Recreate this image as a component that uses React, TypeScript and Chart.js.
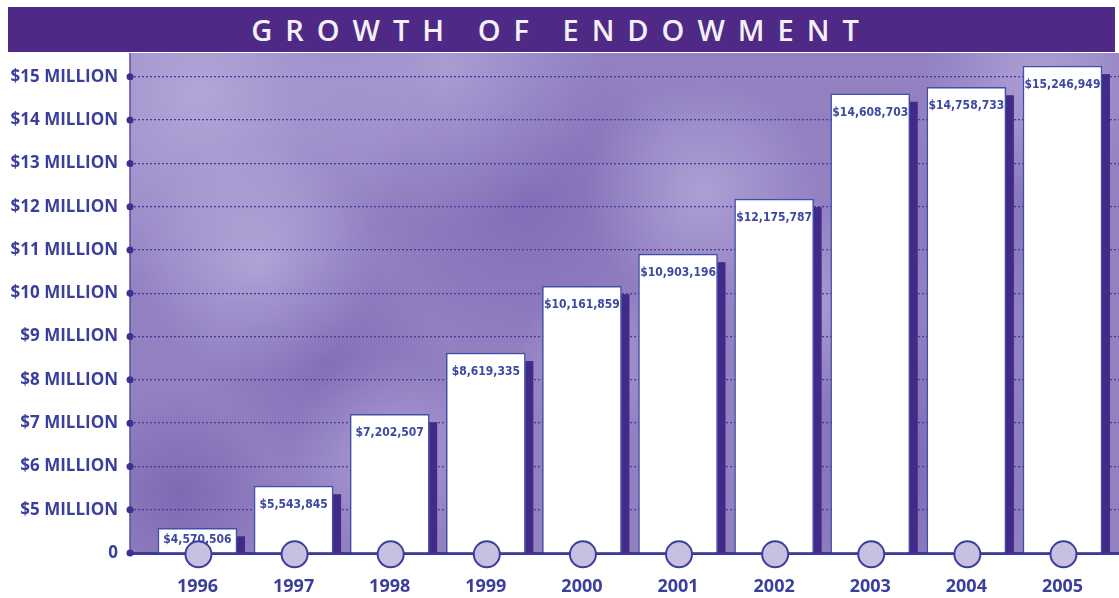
import React, { useEffect, useRef } from "react";
import { Chart, registerables } from "chart.js";

Chart.register(...registerables);

// ---- data ----
const title = "GROWTH OF ENDOWMENT";
const years = [1996, 1997, 1998, 1999, 2000, 2001, 2002, 2003, 2004, 2005];
const endowment = [
  4570506, 5543845, 7202507, 8619335, 10161859, 10903196, 12175787, 14608703,
  14758733, 15246949,
];
const yTickLabels = [
  "0",
  "$5 MILLION",
  "$6 MILLION",
  "$7 MILLION",
  "$8 MILLION",
  "$9 MILLION",
  "$10 MILLION",
  "$11 MILLION",
  "$12 MILLION",
  "$13 MILLION",
  "$14 MILLION",
  "$15 MILLION",
];
// y axis in millions of dollars; broken axis: the 4 (million) position is labelled "0"
const yAxisStart = 4;
const yAxisEnd = 15.55;
const yStep = 1;
const MILLION = 1000000;

// ---- styling ----
const TEXT = "#3b3f9c";
const PURPLE = "#4e2a86";
const SHADOW = "#432a88";

// decorative cloud texture (fractions of the plot area)
const lightSpots: [number, number, number, string][] = [
  [0.07, 0.08, 0.22, "rgba(205,196,234,0.55)"],
  [0.32, 0.03, 0.16, "rgba(200,190,232,0.45)"],
  [0.58, 0.28, 0.12, "rgba(205,196,234,0.45)"],
  [0.13, 0.42, 0.12, "rgba(205,196,234,0.45)"],
  [0.26, 0.8, 0.1, "rgba(205,196,234,0.4)"],
  [0.92, 0.05, 0.12, "rgba(205,196,234,0.45)"],
  [0.7, 0.5, 0.1, "rgba(205,196,234,0.35)"],
  [0.47, 0.62, 0.08, "rgba(205,196,234,0.35)"],
];
const darkSpots: [number, number, number, string][] = [
  [0.4, 0.3, 0.16, "rgba(110,88,170,0.45)"],
  [0.05, 0.88, 0.1, "rgba(100,78,160,0.45)"],
  [0.2, 0.62, 0.12, "rgba(110,88,170,0.4)"],
  [0.78, 0.82, 0.15, "rgba(105,82,165,0.45)"],
  [0.86, 0.32, 0.1, "rgba(110,88,170,0.35)"],
];

const formatMoney = (v: number) => "$" + v.toLocaleString("en-US");

const zeroPadding = (s: any) => {
  s.paddingTop = 0;
  s.paddingBottom = 0;
  s.paddingLeft = 0;
  s.paddingRight = 0;
};

const decorPlugin = {
  id: "decor",
  beforeDraw(chart: any) {
    const { ctx, chartArea: a } = chart;
    ctx.save();
    ctx.beginPath();
    ctx.rect(a.left, a.top, a.right - a.left, a.bottom - a.top);
    ctx.clip();
    ctx.fillStyle = "#9280c1";
    ctx.fillRect(a.left, a.top, a.right - a.left, a.bottom - a.top);
    const w = a.right - a.left;
    const h = a.bottom - a.top;
    for (const [fx, fy, fr, col] of [...darkSpots, ...lightSpots]) {
      const cx = a.left + fx * w;
      const cy = a.top + fy * h;
      const r = fr * w;
      const g = ctx.createRadialGradient(cx, cy, 0, cx, cy, r);
      g.addColorStop(0, col);
      g.addColorStop(1, col.replace(/[\d.]+\)$/, "0)"));
      ctx.fillStyle = g;
      ctx.fillRect(cx - r, cy - r, 2 * r, 2 * r);
    }
    ctx.restore();
  },
  beforeDatasetsDraw(chart: any) {
    const { ctx } = chart;
    const meta = chart.getDatasetMeta(0);
    ctx.save();
    meta.data.forEach((bar: any) => {
      const p = bar.getProps(["x", "y", "base", "width"], true);
      const x0 = p.x + p.width / 2;
      const top = p.y + 8;
      ctx.fillStyle = SHADOW;
      ctx.fillRect(x0, top, 8, p.base - top);
    });
    ctx.restore();
  },
  afterDatasetsDraw(chart: any) {
    const { ctx, chartArea: a } = chart;
    const yScale = chart.scales.y;
    ctx.save();
    // y-axis edge
    ctx.strokeStyle = "#5a4caa";
    ctx.lineWidth = 1.5;
    ctx.beginPath();
    ctx.moveTo(a.left, a.top);
    ctx.lineTo(a.left, a.bottom);
    ctx.stroke();
    // tick dots
    ctx.fillStyle = "#3d2f8f";
    yScale.ticks.forEach((t: any) => {
      const py = yScale.getPixelForValue(t.value);
      ctx.beginPath();
      ctx.arc(a.left, py, 3.5, 0, Math.PI * 2);
      ctx.fill();
    });
    const meta = chart.getDatasetMeta(0);
    // circles on the axis
    meta.data.forEach((bar: any) => {
      const p = bar.getProps(["x", "base"], true);
      ctx.beginPath();
      ctx.arc(p.x + 1, p.base + 2, 13, 0, Math.PI * 2);
      ctx.fillStyle = "#c8c0e1";
      ctx.fill();
      ctx.lineWidth = 2;
      ctx.strokeStyle = TEXT;
      ctx.stroke();
    });
    // value labels
    ctx.font = "bold 12px 'DejaVu Sans Condensed', 'DejaVu Sans', sans-serif";
    ctx.fillStyle = "#3c48a2";
    ctx.textAlign = "center";
    ctx.textBaseline = "middle";
    meta.data.forEach((bar: any, i: number) => {
      const p = bar.getProps(["x", "y", "base"], true);
      const off = Math.min(19, (p.base - p.y) * 0.5);
      ctx.fillText(formatMoney(endowment[i]), p.x, p.y + off);
    });
    ctx.restore();
  },
};

export default function App() {
  const ref = useRef<HTMLCanvasElement | null>(null);

  useEffect(() => {
    if (!ref.current) return;
    const chart = new Chart(ref.current, {
      type: "bar",
      data: {
        datasets: [
          {
            data: years.map((yr, i) => ({ x: yr, y: endowment[i] / MILLION })),
            backgroundColor: "#ffffff",
            borderColor: "#4050a8",
            borderWidth: 1.5,
            barThickness: 79,
            base: yAxisStart,
          } as any,
        ],
      },
      options: {
        responsive: false,
        animation: false,
        layout: { padding: 0 },
        plugins: {
          legend: { display: false },
          title: { display: false },
          tooltip: { enabled: false },
        },
        scales: {
          x: {
            type: "linear",
            offset: false,
            min: years[0] - 0.702,
            max: years[years.length - 1] + 0.588,
            grid: { display: false, drawTicks: false, offset: false },
            border: { display: true, color: "#3a3a98", width: 3 },
            ticks: {
              stepSize: 1,
              includeBounds: false,
              maxTicksLimit: 20,
              autoSkip: false,
              maxRotation: 0,
              padding: 23,
              color: TEXT,
              font: { family: "'Open Sans', sans-serif", size: 18, weight: "bold" },
              callback: (v: any) => String(v),
            },
            afterFit: (s: any) => {
              s.height = 45;
              zeroPadding(s);
            },
          },
          y: {
            type: "linear",
            bounds: "data",
            min: yAxisStart,
            max: yAxisEnd,
            grid: { color: "#3f3fa0", lineWidth: 1.3, drawTicks: false },
            border: { display: false, dash: [2, 2] },
            ticks: {
              stepSize: yStep,
              includeBounds: false,
              maxTicksLimit: 20,
              autoSkip: false,
              padding: 12,
              color: TEXT,
              font: { family: "'Open Sans', sans-serif", size: 17, weight: "bold" },
              callback: (_v: any, i: number) => yTickLabels[i],
            },
            afterFit: (s: any) => {
              s.width = 122;
              zeroPadding(s);
            },
          },
        },
      } as any,
      plugins: [decorPlugin],
    });
    return () => chart.destroy();
  }, []);

  return (
    <div style={{ position: "absolute", left: 0, top: 0, width: 1119, height: 598, overflow: "hidden" }}>
      <div
        style={{
          position: "absolute",
          left: 8,
          top: 7,
          width: 1107,
          height: 45,
          background: PURPLE,
          color: "#f4f0fa",
          textAlign: "center",
          font: "600 29px 'Open Sans', sans-serif",
          letterSpacing: "13px",
          lineHeight: "45px",
          boxSizing: "border-box",
          whiteSpace: "nowrap",
        }}
      >
        {title}
      </div>
      <div style={{ position: "absolute", left: 8, top: 53, width: 1111, height: 545 }}>
        <canvas ref={ref} width={1111} height={545} style={{ width: 1111, height: 545 }} />
      </div>
    </div>
  );
}
